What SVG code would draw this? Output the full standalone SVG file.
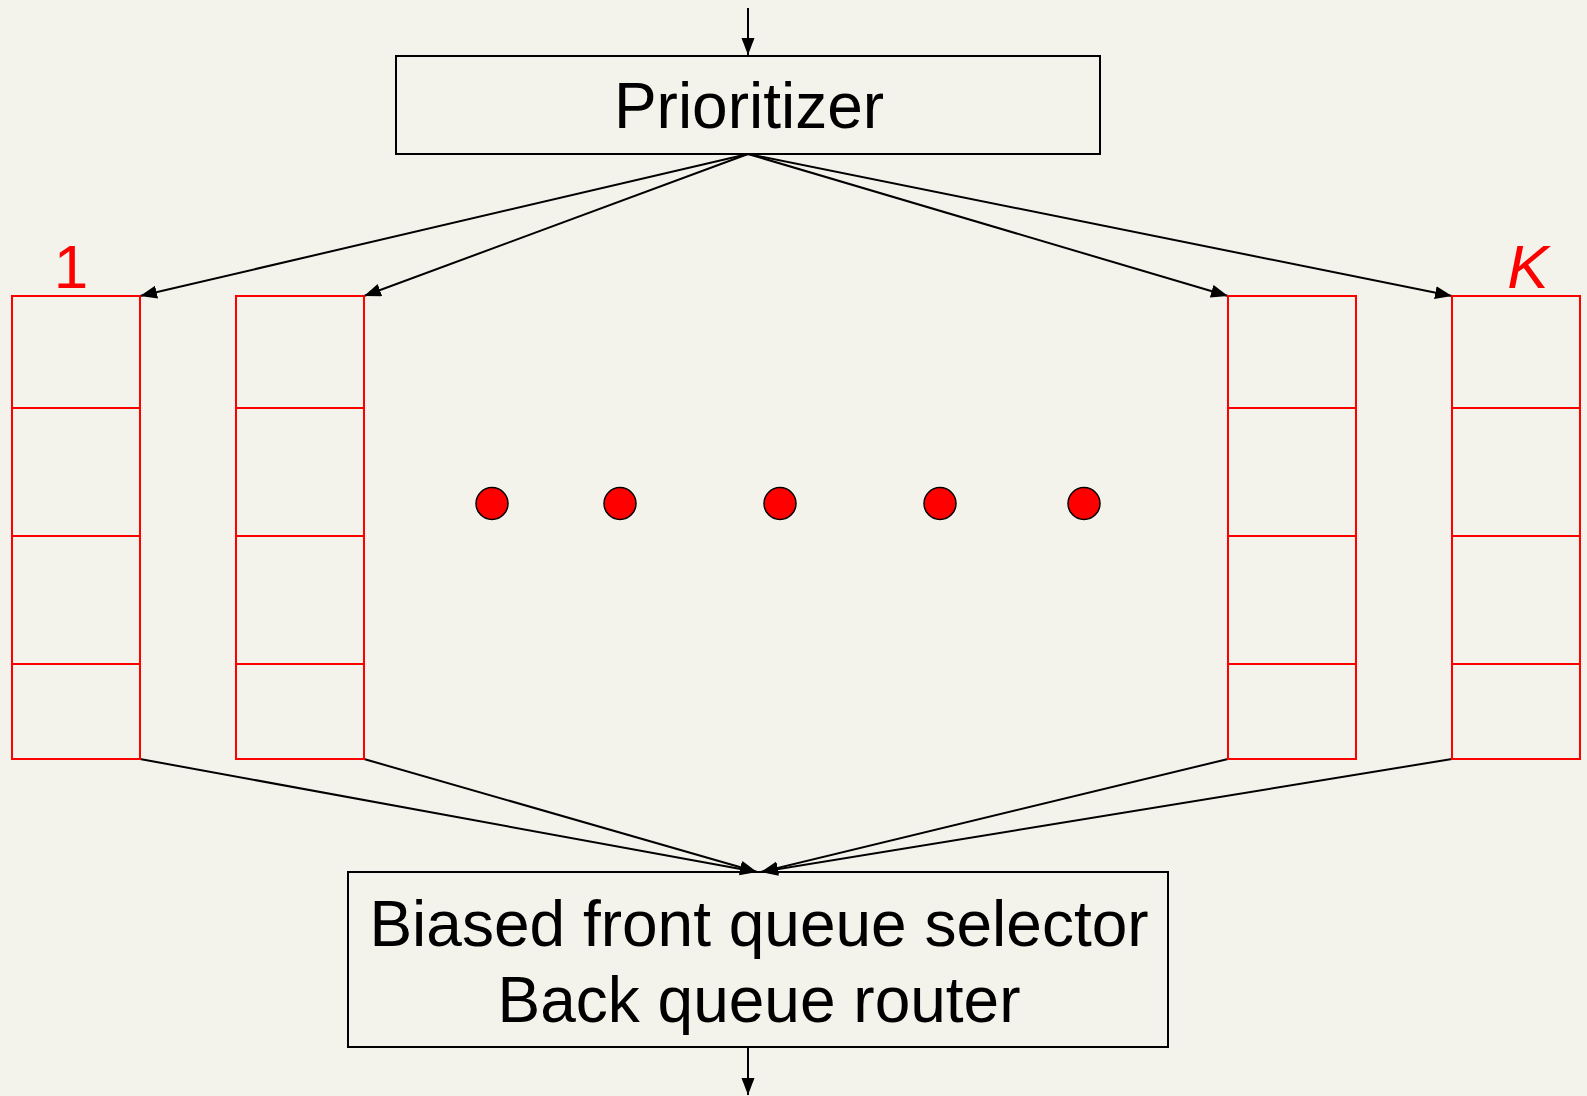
<svg xmlns="http://www.w3.org/2000/svg" width="1587" height="1096" viewBox="0 0 1587 1096">
  <style>
    .box { fill: none; stroke: #000; stroke-width: 2; }
    .queue { fill: none; stroke: #ff0000; stroke-width: 2; }
    .edge { fill: none; stroke: #000; stroke-width: 2; }
    .label { font-family: "Liberation Sans", Arial, sans-serif; fill: #000; text-anchor: middle; }
    .qlabel { font-family: "Liberation Sans", Arial, sans-serif; fill: #ff0000; text-anchor: middle; font-size: 62px; }
    .dot { fill: #ff0000; stroke: #000; stroke-width: 1.5; }
  </style>
  <defs>
    <marker id="arrow" markerUnits="userSpaceOnUse" markerWidth="20" markerHeight="16" refX="17" refY="6.5" orient="auto">
      <path d="M0,0 L17,6.5 L0,13 Z" fill="#000"/>
    </marker>
  </defs>
  <rect width="1587" height="1096" fill="#f3f2eb"/>

  <g id="connectors">
    <line class="edge" x1="748" y1="8" x2="748" y2="55" marker-end="url(#arrow)"/>
    <line class="edge" x1="748" y1="154" x2="140" y2="296" marker-end="url(#arrow)"/>
    <line class="edge" x1="748" y1="154" x2="364" y2="296" marker-end="url(#arrow)"/>
    <line class="edge" x1="748" y1="154" x2="1228" y2="296" marker-end="url(#arrow)"/>
    <line class="edge" x1="748" y1="154" x2="1452" y2="296" marker-end="url(#arrow)"/>
    <line class="edge" x1="140" y1="759" x2="757" y2="872" marker-end="url(#arrow)"/>
    <line class="edge" x1="364" y1="759" x2="757" y2="872" marker-end="url(#arrow)"/>
    <line class="edge" x1="1228" y1="759" x2="761" y2="872" marker-end="url(#arrow)"/>
    <line class="edge" x1="1452" y1="759" x2="761" y2="872" marker-end="url(#arrow)"/>
    <line class="edge" x1="748" y1="1047" x2="748" y2="1095" marker-end="url(#arrow)"/>
  </g>

  <g id="prioritizer">
    <rect class="box" x="396" y="56" width="704" height="98"/>
    <text class="label" x="749" y="128" font-size="64">Prioritizer</text>
  </g>

  <g id="queue-1">
    <rect class="queue" x="12" y="296" width="128" height="463"/>
    <line class="queue" x1="12" y1="408" x2="140" y2="408"/>
    <line class="queue" x1="12" y1="536" x2="140" y2="536"/>
    <line class="queue" x1="12" y1="664" x2="140" y2="664"/>
    <text class="qlabel" x="71" y="288">1</text>
  </g>

  <g id="queue-2">
    <rect class="queue" x="236" y="296" width="128" height="463"/>
    <line class="queue" x1="236" y1="408" x2="364" y2="408"/>
    <line class="queue" x1="236" y1="536" x2="364" y2="536"/>
    <line class="queue" x1="236" y1="664" x2="364" y2="664"/>
  </g>

  <g id="queue-k-1">
    <rect class="queue" x="1228" y="296" width="128" height="463"/>
    <line class="queue" x1="1228" y1="408" x2="1356" y2="408"/>
    <line class="queue" x1="1228" y1="536" x2="1356" y2="536"/>
    <line class="queue" x1="1228" y1="664" x2="1356" y2="664"/>
  </g>

  <g id="queue-k">
    <rect class="queue" x="1452" y="296" width="128" height="463"/>
    <line class="queue" x1="1452" y1="408" x2="1580" y2="408"/>
    <line class="queue" x1="1452" y1="536" x2="1580" y2="536"/>
    <line class="queue" x1="1452" y1="664" x2="1580" y2="664"/>
    <text class="qlabel" x="1528" y="288" font-style="italic">K</text>
  </g>

  <g id="ellipsis">
    <circle class="dot" cx="492" cy="503.5" r="16"/>
    <circle class="dot" cx="620" cy="503.5" r="16"/>
    <circle class="dot" cx="780" cy="503.5" r="16"/>
    <circle class="dot" cx="940" cy="503.5" r="16"/>
    <circle class="dot" cx="1084" cy="503.5" r="16"/>
  </g>

  <g id="selector">
    <rect class="box" x="348" y="872" width="820" height="175"/>
    <text class="label" x="759" y="946" font-size="64">Biased front queue selector</text>
    <text class="label" x="759" y="1022" font-size="64">Back queue router</text>
  </g>
</svg>
